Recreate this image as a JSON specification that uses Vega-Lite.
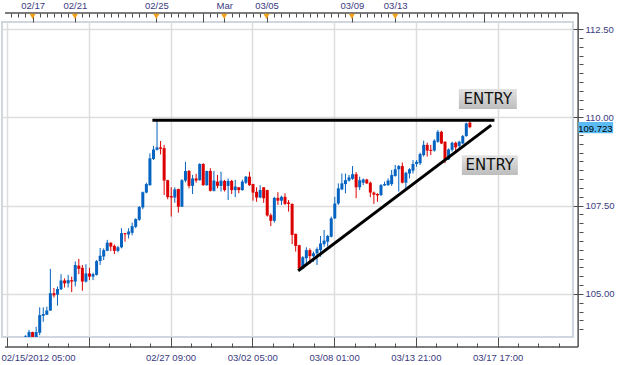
{
  "$schema": "https://vega.github.io/schema/vega-lite/v6.json",
  "width": 571,
  "height": 315,
  "autosize": {"type": "none"},
  "padding": {"left": 2, "top": 22, "right": 51, "bottom": 28},
  "background": "white",
  "config": {
    "view": {"stroke": "#cfd6df", "strokeWidth": 2},
    "axis": {"labelFont": "Liberation Sans", "labelFontSize": 9.5, "labelColor": "#3a3a80", "tickColor": "#4d4d4d", "tickWidth": 1, "title": null}
  },
  "datasets": {
    "candles": [
      {"i":0,"o":103.79,"h":103.83,"l":103.77,"c":103.81},
      {"i":1,"o":103.77,"h":103.98,"l":103.76,"c":103.92},
      {"i":2,"o":103.92,"h":103.93,"l":103.76,"c":103.77},
      {"i":3,"o":103.77,"h":104.07,"l":103.76,"c":103.92},
      {"i":4,"o":103.90,"h":104.62,"l":103.83,"c":104.40},
      {"i":5,"o":104.38,"h":104.62,"l":104.21,"c":104.43},
      {"i":6,"o":104.41,"h":104.64,"l":104.40,"c":104.53},
      {"i":7,"o":104.53,"h":105.71,"l":104.52,"c":105.02},
      {"i":8,"o":105.02,"h":105.17,"l":104.90,"c":104.96},
      {"i":9,"o":104.98,"h":105.21,"l":104.67,"c":105.14},
      {"i":10,"o":105.13,"h":105.56,"l":105.11,"c":105.38},
      {"i":11,"o":105.38,"h":105.44,"l":105.18,"c":105.30},
      {"i":12,"o":105.30,"h":105.54,"l":105.18,"c":105.39},
      {"i":13,"o":105.39,"h":105.49,"l":105.05,"c":105.35},
      {"i":14,"o":105.35,"h":105.92,"l":105.21,"c":105.82},
      {"i":15,"o":105.80,"h":105.99,"l":105.56,"c":105.71},
      {"i":16,"o":105.74,"h":105.82,"l":105.09,"c":105.35},
      {"i":17,"o":105.35,"h":105.84,"l":105.32,"c":105.58},
      {"i":18,"o":105.58,"h":105.74,"l":105.39,"c":105.49},
      {"i":19,"o":105.49,"h":105.60,"l":105.39,"c":105.56},
      {"i":20,"o":105.54,"h":105.96,"l":105.52,"c":105.93},
      {"i":21,"o":105.93,"h":106.30,"l":105.82,"c":106.08},
      {"i":22,"o":106.06,"h":106.29,"l":105.96,"c":106.24},
      {"i":23,"o":106.22,"h":106.53,"l":106.21,"c":106.45},
      {"i":24,"o":106.45,"h":106.46,"l":106.21,"c":106.34},
      {"i":25,"o":106.36,"h":106.40,"l":106.13,"c":106.22},
      {"i":26,"o":106.22,"h":106.36,"l":106.18,"c":106.32},
      {"i":27,"o":106.32,"h":106.86,"l":106.29,"c":106.72},
      {"i":28,"o":106.72,"h":106.73,"l":106.48,"c":106.69},
      {"i":29,"o":106.68,"h":106.86,"l":106.57,"c":106.77},
      {"i":30,"o":106.73,"h":107.02,"l":106.66,"c":106.92},
      {"i":31,"o":106.90,"h":107.14,"l":106.86,"c":107.12},
      {"i":32,"o":107.10,"h":107.49,"l":107.07,"c":107.46},
      {"i":33,"o":107.45,"h":107.90,"l":107.40,"c":107.88},
      {"i":34,"o":107.87,"h":108.15,"l":107.85,"c":108.11},
      {"i":35,"o":108.08,"h":108.98,"l":108.06,"c":108.84},
      {"i":36,"o":108.82,"h":109.19,"l":108.79,"c":109.09},
      {"i":37,"o":109.08,"h":109.90,"l":109.06,"c":109.15},
      {"i":38,"o":109.15,"h":109.33,"l":108.95,"c":109.11},
      {"i":39,"o":109.13,"h":109.22,"l":107.80,"c":108.21},
      {"i":40,"o":108.22,"h":108.23,"l":107.68,"c":107.74},
      {"i":41,"o":107.77,"h":108.02,"l":107.19,"c":107.73},
      {"i":42,"o":107.73,"h":108.02,"l":107.58,"c":107.96},
      {"i":43,"o":107.97,"h":107.98,"l":107.30,"c":107.47},
      {"i":44,"o":107.47,"h":108.25,"l":107.46,"c":108.22},
      {"i":45,"o":108.21,"h":108.74,"l":108.16,"c":108.48},
      {"i":46,"o":108.48,"h":108.51,"l":107.99,"c":108.06},
      {"i":47,"o":108.06,"h":108.37,"l":107.83,"c":108.27},
      {"i":48,"o":108.27,"h":108.40,"l":108.15,"c":108.21},
      {"i":49,"o":108.22,"h":108.70,"l":108.21,"c":108.68},
      {"i":50,"o":108.68,"h":108.70,"l":108.06,"c":108.08},
      {"i":51,"o":108.08,"h":108.49,"l":108.06,"c":108.48},
      {"i":52,"o":108.48,"h":108.56,"l":107.90,"c":107.92},
      {"i":53,"o":107.92,"h":108.48,"l":107.90,"c":108.21},
      {"i":54,"o":108.18,"h":108.37,"l":107.99,"c":108.06},
      {"i":55,"o":108.06,"h":108.46,"l":107.90,"c":108.21},
      {"i":56,"o":108.20,"h":108.23,"l":107.90,"c":107.94},
      {"i":57,"o":108.06,"h":108.27,"l":107.66,"c":108.20},
      {"i":58,"o":108.20,"h":108.23,"l":107.83,"c":107.94},
      {"i":59,"o":107.94,"h":108.23,"l":107.74,"c":108.04},
      {"i":60,"o":108.02,"h":108.02,"l":107.85,"c":107.94},
      {"i":61,"o":107.94,"h":108.23,"l":107.92,"c":108.18},
      {"i":62,"o":108.15,"h":108.34,"l":108.11,"c":108.32},
      {"i":63,"o":108.32,"h":108.46,"l":108.06,"c":108.08},
      {"i":64,"o":108.11,"h":108.12,"l":107.64,"c":107.87},
      {"i":65,"o":107.89,"h":108.02,"l":107.61,"c":107.73},
      {"i":66,"o":107.73,"h":108.08,"l":107.71,"c":107.94},
      {"i":67,"o":108.02,"h":108.02,"l":107.58,"c":107.71},
      {"i":68,"o":107.94,"h":107.95,"l":107.19,"c":107.22},
      {"i":69,"o":107.23,"h":107.28,"l":106.92,"c":107.07},
      {"i":70,"o":107.07,"h":107.75,"l":107.02,"c":107.72},
      {"i":71,"o":107.72,"h":107.88,"l":107.52,"c":107.64},
      {"i":72,"o":107.64,"h":107.78,"l":107.52,"c":107.75},
      {"i":73,"o":107.75,"h":107.85,"l":107.52,"c":107.55},
      {"i":74,"o":107.59,"h":107.66,"l":107.33,"c":107.55},
      {"i":75,"o":107.55,"h":107.56,"l":106.41,"c":106.67},
      {"i":76,"o":106.70,"h":106.71,"l":106.20,"c":106.36},
      {"i":77,"o":106.38,"h":106.39,"l":105.68,"c":105.72},
      {"i":78,"o":105.72,"h":106.07,"l":105.70,"c":106.04},
      {"i":79,"o":106.01,"h":106.32,"l":105.82,"c":106.24},
      {"i":80,"o":106.24,"h":106.29,"l":105.85,"c":106.07},
      {"i":81,"o":106.07,"h":106.20,"l":105.91,"c":106.15},
      {"i":82,"o":106.15,"h":106.32,"l":105.82,"c":106.27},
      {"i":83,"o":106.24,"h":106.64,"l":106.05,"c":106.43},
      {"i":84,"o":106.41,"h":106.81,"l":106.34,"c":106.51},
      {"i":85,"o":106.48,"h":106.67,"l":106.34,"c":106.64},
      {"i":86,"o":106.62,"h":107.19,"l":106.60,"c":107.14},
      {"i":87,"o":107.14,"h":107.75,"l":107.12,"c":107.56},
      {"i":88,"o":107.56,"h":108.13,"l":107.52,"c":107.99},
      {"i":89,"o":107.96,"h":108.41,"l":107.94,"c":108.13},
      {"i":90,"o":108.11,"h":108.41,"l":107.85,"c":108.22},
      {"i":91,"o":108.21,"h":108.37,"l":108.18,"c":108.30},
      {"i":92,"o":108.26,"h":108.62,"l":108.23,"c":108.39},
      {"i":93,"o":108.39,"h":108.45,"l":107.71,"c":108.02},
      {"i":94,"o":108.02,"h":108.32,"l":107.94,"c":108.22},
      {"i":95,"o":108.15,"h":108.27,"l":108.08,"c":108.24},
      {"i":96,"o":108.24,"h":108.26,"l":108.11,"c":108.13},
      {"i":97,"o":108.15,"h":108.18,"l":107.74,"c":107.87},
      {"i":98,"o":107.87,"h":107.90,"l":107.55,"c":107.81},
      {"i":99,"o":107.83,"h":107.85,"l":107.61,"c":107.79},
      {"i":100,"o":107.80,"h":108.11,"l":107.77,"c":108.08},
      {"i":101,"o":108.07,"h":108.18,"l":108.06,"c":108.11},
      {"i":102,"o":108.08,"h":108.27,"l":108.06,"c":108.21},
      {"i":103,"o":108.11,"h":108.51,"l":108.06,"c":108.37},
      {"i":104,"o":108.34,"h":108.65,"l":108.32,"c":108.53},
      {"i":105,"o":108.53,"h":108.65,"l":107.90,"c":108.62},
      {"i":106,"o":108.62,"h":108.72,"l":108.13,"c":108.15},
      {"i":107,"o":108.15,"h":108.46,"l":107.99,"c":108.43},
      {"i":108,"o":108.41,"h":108.56,"l":108.27,"c":108.53},
      {"i":109,"o":108.49,"h":108.79,"l":108.41,"c":108.68},
      {"i":110,"o":108.68,"h":108.79,"l":108.60,"c":108.74},
      {"i":111,"o":108.70,"h":109.00,"l":108.65,"c":108.96},
      {"i":112,"o":108.93,"h":109.34,"l":108.89,"c":109.22},
      {"i":113,"o":109.22,"h":109.28,"l":108.89,"c":109.06},
      {"i":114,"o":109.08,"h":109.22,"l":108.93,"c":109.05},
      {"i":115,"o":109.06,"h":109.38,"l":109.03,"c":109.34},
      {"i":116,"o":109.31,"h":109.64,"l":109.28,"c":109.59},
      {"i":117,"o":109.59,"h":109.62,"l":109.24,"c":109.26},
      {"i":118,"o":109.31,"h":109.32,"l":108.70,"c":108.81},
      {"i":119,"o":108.81,"h":109.12,"l":108.79,"c":109.09},
      {"i":120,"o":109.08,"h":109.31,"l":109.03,"c":109.28},
      {"i":121,"o":109.28,"h":109.31,"l":109.03,"c":109.15},
      {"i":122,"o":109.19,"h":109.34,"l":109.12,"c":109.31},
      {"i":123,"o":109.26,"h":109.50,"l":109.24,"c":109.47},
      {"i":124,"o":109.47,"h":109.85,"l":109.45,"c":109.83},
      {"i":125,"o":109.85,"h":109.92,"l":109.69,"c":109.723}
    ],
    "lines": [
      {"id":"resistance","i":35.7,"p":109.92},
      {"id":"resistance","i":131.9,"p":109.92},
      {"id":"support","i":76.7,"p":105.656},
      {"id":"support","i":131.0,"p":109.78}
    ],
    "notes": [
      {"t":"ENTRY","i":130.05,"p":110.52,"i1":121.9,"i2":138.2,"p1":110.80,"p2":110.235},
      {"t":"ENTRY","i":130.6,"p":108.65,"i1":122.75,"i2":138.5,"p1":108.93,"p2":108.37}
    ],
    "days": [
      {"i":2,"d":"02/17"},{"i":13.9,"d":"02/21"},{"i":36.8,"d":"02/25"},{"i":55.9,"d":"Mar"},
      {"i":67.8,"d":"03/05"},{"i":91.8,"d":"03/09"},{"i":104,"d":"03/13"}
    ],
    "last": [{"v":109.723,"t":"109.723"}]
  },
  "data": {"values": [{}]},
  "resolve": {"axis": {"x": "independent", "y": "independent"}},
  "layer": [
    {
      "data": {"name": "candles"},
      "mark": {"type": "rule", "strokeWidth": 1, "clip": true},
      "encoding": {
        "x": {"field": "i", "type": "quantitative", "scale": {"domain": [-5.2, 152.6], "nice": false, "zero": false},
          "axis": {
            "orient": "bottom", "offset": 10, "domain": false,
            "values": [-5.2, 0.55, 6.3, 12.05, 17.8, 23.55, 29.3, 35.05, 40.8, 46.55, 52.3, 58.05, 63.8, 69.55, 75.3, 81.05, 86.8, 92.55, 98.3, 104.05, 109.8, 115.55, 121.3, 127.05, 132.8, 138.55, 144.3, 150.05],
            "tickSize": {"condition": {"test": "abs((datum.value + 5.2) / 23 - round((datum.value + 5.2) / 23)) < 0.01", "value": -10}, "value": -4},
            "grid": true, "gridColor": "#dddddd", "gridWidth": 1.5,
            "gridOpacity": {"condition": {"test": "abs((datum.value + 5.2) / 23 - round((datum.value + 5.2) / 23)) < 0.01", "value": 1}, "value": 0},
            "labelExpr": "abs((datum.value + 5.2) / 23 - round((datum.value + 5.2) / 23)) < 0.01 ? ['02/15/2012 05:00', '', '02/27 09:00', '03/02 05:00', '03/08 01:00', '03/13 21:00', '03/17 17:00'][round((datum.value + 5.2) / 23)] : ''",
            "labelAlign": {"condition": {"test": "datum.value < -5", "value": "left"}, "value": "center"},
            "labelOffset": {"condition": {"test": "datum.value < -5", "value": -6}, "value": 0},
            "labelFlush": false, "labelOverlap": false, "labelPadding": 15, "labelBaseline": "top"
          }},
        "y": {"field": "l", "type": "quantitative", "scale": {"domain": [103.78, 112.70], "nice": false, "zero": false},
          "axis": {
            "orient": "right", "offset": 10, "domain": false,
            "values": [104, 104.25, 104.5, 104.75, 105, 105.25, 105.5, 105.75, 106, 106.25, 106.5, 106.75, 107, 107.25, 107.5, 107.75, 108, 108.25, 108.5, 108.75, 109, 109.25, 109.5, 109.75, 110, 110.25, 110.5, 110.75, 111, 111.25, 111.5, 111.75, 112, 112.25, 112.5],
            "tickSize": {"condition": {"test": "abs(datum.value / 2.5 - round(datum.value / 2.5)) < 0.001", "value": -10}, "value": -4},
            "grid": true, "gridColor": "#dddddd", "gridWidth": 1.5,
            "gridOpacity": {"condition": {"test": "abs(datum.value / 2.5 - round(datum.value / 2.5)) < 0.001", "value": 1}, "value": 0},
            "labelExpr": "abs(datum.value / 2.5 - round(datum.value / 2.5)) < 0.001 ? format(datum.value, '.2f') : ''",
            "labelPadding": 12, "labelOverlap": false, "labelBaseline": "middle", "labelAlign": "left"
          }},
        "y2": {"field": "h"},
        "color": {"condition": {"test": "datum.c >= datum.o", "value": "#0563c1"}, "value": "#dd0000"}
      }
    },
    {
      "data": {"name": "candles"},
      "mark": {"type": "bar", "size": 3, "clip": true},
      "encoding": {
        "x": {"field": "i", "type": "quantitative", "scale": {"domain": [-5.2, 152.6], "nice": false, "zero": false}, "axis": null},
        "y": {"field": "o", "type": "quantitative", "scale": {"domain": [103.78, 112.70], "nice": false, "zero": false}, "axis": null},
        "y2": {"field": "c"},
        "color": {"condition": {"test": "datum.c >= datum.o", "value": "#0563c1"}, "value": "#dd0000"}
      }
    },
    {
      "data": {"name": "lines"},
      "mark": {"type": "line", "color": "black", "strokeWidth": 3},
      "encoding": {
        "x": {"field": "i", "type": "quantitative", "scale": {"domain": [-5.2, 152.6], "nice": false, "zero": false}, "axis": null},
        "y": {"field": "p", "type": "quantitative", "scale": {"domain": [103.78, 112.70], "nice": false, "zero": false}, "axis": null},
        "detail": {"field": "id"}
      }
    },
    {
      "data": {"name": "notes"},
      "mark": {"type": "rect", "fill": {"gradient": "linear", "x1": 0, "y1": 0, "x2": 0, "y2": 1, "stops": [{"offset": 0, "color": "#e2e2e2"}, {"offset": 1, "color": "#bdbdbd"}]}},
      "encoding": {
        "x": {"field": "i1", "type": "quantitative", "scale": {"domain": [-5.2, 152.6], "nice": false, "zero": false}, "axis": null},
        "x2": {"field": "i2"},
        "y": {"field": "p1", "type": "quantitative", "scale": {"domain": [103.78, 112.70], "nice": false, "zero": false}, "axis": null},
        "y2": {"field": "p2"}
      }
    },
    {
      "data": {"name": "notes"},
      "mark": {"type": "text", "font": "DejaVu Sans", "fontSize": 15, "color": "#111111", "align": "center", "baseline": "middle"},
      "encoding": {
        "x": {"field": "i", "type": "quantitative", "scale": {"domain": [-5.2, 152.6], "nice": false, "zero": false}, "axis": null},
        "y": {"field": "p", "type": "quantitative", "scale": {"domain": [103.78, 112.70], "nice": false, "zero": false}, "axis": null},
        "text": {"field": "t"}
      }
    },
    {
      "mark": {"type": "rule", "color": "#505050", "strokeWidth": 1.5},
      "encoding": {
        "x": {"datum": -5.75, "type": "quantitative", "scale": {"domain": [-5.2, 152.6], "nice": false, "zero": false}, "axis": null},
        "x2": {"datum": 155.45},
        "y": {"datum": 112.955, "type": "quantitative", "scale": {"domain": [103.78, 112.70], "nice": false, "zero": false}, "axis": null}
      }
    },
    {
      "mark": {"type": "rule", "color": "#505050", "strokeWidth": 1.5},
      "encoding": {
        "x": {"datum": -5.75, "type": "quantitative", "scale": {"domain": [-5.2, 152.6], "nice": false, "zero": false}, "axis": null},
        "x2": {"datum": 155.45},
        "y": {"datum": 103.497, "type": "quantitative", "scale": {"domain": [103.78, 112.70], "nice": false, "zero": false}, "axis": null}
      }
    },
    {
      "mark": {"type": "rule", "color": "#505050", "strokeWidth": 1.5},
      "encoding": {
        "x": {"datum": 155.45, "type": "quantitative", "scale": {"domain": [-5.2, 152.6], "nice": false, "zero": false}, "axis": null},
        "y": {"datum": 103.497, "type": "quantitative", "scale": {"domain": [103.78, 112.70], "nice": false, "zero": false}, "axis": null},
        "y2": {"datum": 112.955}
      }
    },
    {
      "data": {"name": "days"},
      "mark": {"type": "point", "shape": "triangle-down", "filled": true, "color": "#f5a01a", "size": 38, "opacity": 1},
      "encoding": {
        "x": {"field": "i", "type": "quantitative", "scale": {"domain": [-5.2, 152.6], "nice": false, "zero": false},
          "axis": {
            "orient": "top", "offset": 9, "domain": false,
            "values": [-4, -2, 0, 2, 4, 6, 8, 10, 12, 13.9, 16, 18, 20, 22, 24, 26, 28, 30, 32, 34, 36.8, 39, 41, 43, 45, 47, 49.8, 52, 54, 55.9, 58, 60, 62, 64, 66, 67.8, 70, 72, 74, 76, 78, 80, 82, 84, 86, 88, 90, 91.8, 94, 96, 98, 100, 102, 104, 106, 108, 110, 112, 114, 116, 118, 120, 122, 124, 126, 128.9, 131, 133, 135, 137, 139, 141, 143, 145, 147, 149, 151],
            "tickSize": {"condition": {"test": "indexof([2, 13.9, 36.8, 49.8, 55.9, 67.8, 91.8, 104, 128.9], datum.value) >= 0", "value": -9}, "value": -4},
            "grid": false,
            "labelExpr": "datum.value == 2 ? '02/17' : datum.value == 13.9 ? '02/21' : datum.value == 36.8 ? '02/25' : datum.value == 55.9 ? 'Mar' : datum.value == 67.8 ? '03/05' : datum.value == 91.8 ? '03/09' : datum.value == 104 ? '03/13' : ''",
            "labelOverlap": false, "labelPadding": 12, "labelBaseline": "bottom"
          }},
        "y": {"datum": 112.86, "type": "quantitative", "scale": {"domain": [103.78, 112.70], "nice": false, "zero": false}, "axis": null}
      }
    },
    {
      "data": {"name": "last"},
      "mark": {"type": "rect", "color": "#5bbcf5"},
      "encoding": {
        "x": {"datum": 155.5, "type": "quantitative", "scale": {"domain": [-5.2, 152.6], "nice": false, "zero": false}, "axis": null},
        "x2": {"datum": 165.3},
        "y": {"datum": 109.865, "type": "quantitative", "scale": {"domain": [103.78, 112.70], "nice": false, "zero": false}, "axis": null},
        "y2": {"datum": 109.55}
      }
    },
    {
      "data": {"name": "last"},
      "mark": {"type": "text", "font": "Liberation Sans", "fontSize": 9.5, "color": "#000000", "align": "center", "baseline": "middle", "dy": 1.5},
      "encoding": {
        "x": {"datum": 160.3, "type": "quantitative", "scale": {"domain": [-5.2, 152.6], "nice": false, "zero": false}, "axis": null},
        "y": {"field": "v", "type": "quantitative", "scale": {"domain": [103.78, 112.70], "nice": false, "zero": false}, "axis": null},
        "text": {"field": "t"}
      }
    }
  ]
}
